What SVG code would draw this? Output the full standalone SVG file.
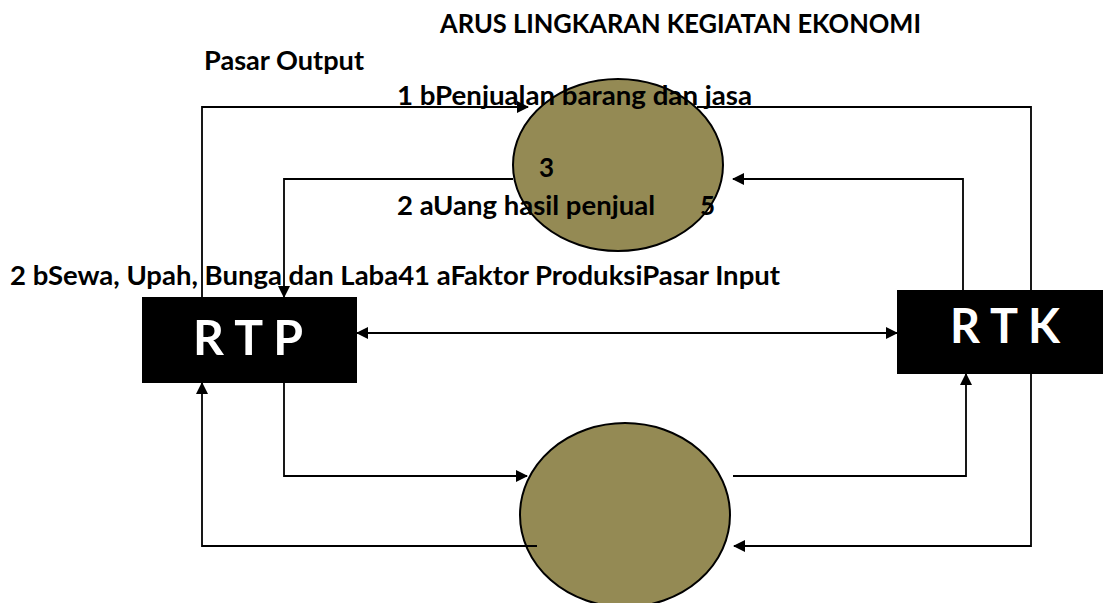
<svg xmlns="http://www.w3.org/2000/svg" width="1103" height="603" viewBox="0 0 1103 603">
<defs>
<marker id="ah" markerWidth="12" markerHeight="12" refX="11" refY="6" orient="auto-start-reverse" markerUnits="userSpaceOnUse">
<path d="M0,0 L12,6 L0,12 Z" fill="#000"/>
</marker>
<style>
.lbl{font-family:Lato,"Open Sans","Liberation Sans",sans-serif;font-weight:bold;fill:#000;font-size:26px}
.box{fill:#000}
.boxt{font-family:Lato,"Open Sans","Liberation Sans",sans-serif;font-weight:bold;fill:#fff;font-size:48px}
.mkt{fill:#948A54;stroke:#000;stroke-width:2}
.c{fill:none;stroke:#000;stroke-width:1.8}
.a{marker-end:url(#ah)}
</style>
</defs>
<rect width="1103" height="603" fill="#fff"/>
<g id="pasar-output"><ellipse class="mkt" cx="618" cy="165" rx="105" ry="86"/></g>
<g id="pasar-input"><ellipse class="mkt" cx="625" cy="515" rx="105" ry="92"/></g>
<g id="rtp"><rect class="box" x="142" y="297" width="215" height="86"/><text class="boxt" x="193" y="355" textLength="110" lengthAdjust="spacingAndGlyphs">R T P</text></g>
<g id="rtk"><rect class="box" x="897" y="290" width="206" height="84"/><text class="boxt" x="950" y="343" textLength="110" lengthAdjust="spacingAndGlyphs">R T K</text></g>
<g id="connectors">
<path class="c a" d="M202,297 V107 H528"/>
<path class="c" d="M697,107 H1031 V290"/>
<path class="c a" d="M513,179 H284 V297"/>
<path class="c a" d="M963,290 V179 H733"/>
<path class="c a" d="M284,383 V476 H527"/>
<path class="c a" d="M733,476 H966 V374"/>
<path class="c a" d="M1031,374 V546 H734"/>
<path class="c a" d="M537,546 H202 V383"/>
<path class="c a" d="M357,333 H897" marker-start="url(#ah)"/>
</g>
<g id="labels">
<text class="lbl" x="440" y="33" textLength="481" lengthAdjust="spacingAndGlyphs">ARUS LINGKARAN KEGIATAN EKONOMI</text>
<text class="lbl" x="204" y="70" textLength="160" lengthAdjust="spacingAndGlyphs">Pasar Output</text>
<text class="lbl" x="397" y="105" textLength="355" lengthAdjust="spacingAndGlyphs">1 bPenjualan barang dan jasa</text>
<text class="lbl" x="539" y="177">3</text>
<text class="lbl" x="397" y="215" textLength="258" lengthAdjust="spacingAndGlyphs">2 aUang hasil penjual</text>
<text class="lbl" x="700" y="215">5</text>
<text class="lbl" x="10" y="285" textLength="770" lengthAdjust="spacingAndGlyphs">2 bSewa, Upah, Bunga dan Laba41 aFaktor ProduksiPasar Input</text>
</g>
</svg>
